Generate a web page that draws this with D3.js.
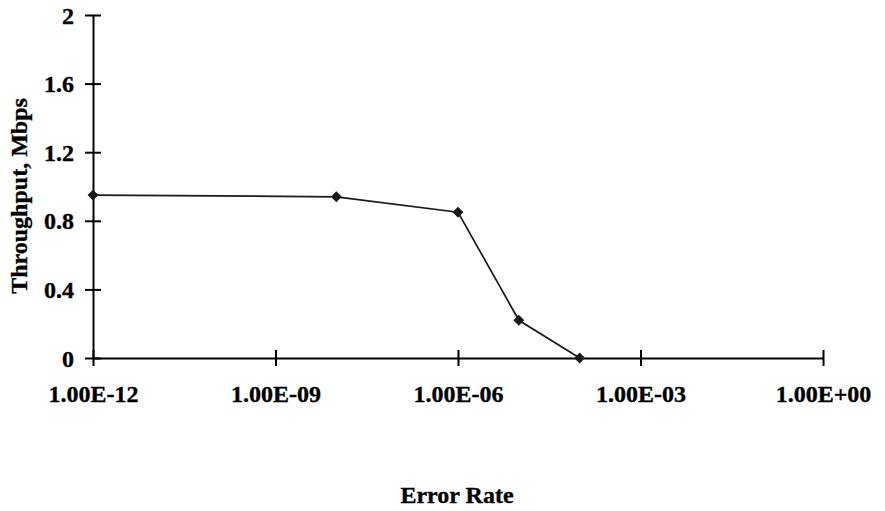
<!DOCTYPE html>
<html>
<head>
<meta charset="utf-8">
<script src="https://cdn.jsdelivr.net/npm/d3@7"></script>
<style>
  body { margin: 0; background: #fff; }
  svg text { font-family: "Liberation Serif", "Times New Roman", serif; font-weight: bold; fill: #000; stroke: #000; stroke-width: 0.35px; }
</style>
</head>
<body>
<div id="graphDiv"></div>
<script>
// error rate vs throughput
var errorRates = [1e-12, 1e-8, 1e-6, 1e-5, 1e-4];
var throughput = [0.95, 0.94, 0.85, 0.22, 0];
var xTicks = [1e-12, 1e-9, 1e-6, 1e-3, 1];
var xTickLabels = ["1.00E-12", "1.00E-09", "1.00E-06", "1.00E-03", "1.00E+00"];
var yTicks = [0, 0.4, 0.8, 1.2, 1.6, 2];
var yTickLabels = ["0", "0.4", "0.8", "1.2", "1.6", "2"];

var w = 885, h = 511;
var fontSize = 24;

var svg = d3.select("#graphDiv").append("svg")
    .attr("width", w)
    .attr("height", h);

var xScale = d3.scaleLog().domain([1e-12, 1]).range([93, 823]);
var yScale = d3.scaleLinear().domain([0, 2]).range([358, 15]);

var xAxis = d3.axisBottom(xScale)
    .tickValues(xTicks)
    .tickFormat(function (d, i) { return xTickLabels[i]; })
    .tickSizeInner(8)
    .tickSizeOuter(0)
    .tickPadding(11);

var yAxis = d3.axisLeft(yScale)
    .tickValues(yTicks)
    .tickFormat(function (d, i) { return yTickLabels[i]; })
    .tickSizeInner(8)
    .tickSizeOuter(0)
    .tickPadding(11);

var gx = svg.append("g")
    .attr("class", "x axis")
    .attr("transform", "translate(0," + yScale(0) + ")")
    .call(xAxis);

var gy = svg.append("g")
    .attr("class", "y axis")
    .attr("transform", "translate(" + xScale(1e-12) + ",0)")
    .call(yAxis);

// ticks cross the axis line
gx.selectAll(".tick line").attr("y1", -8).attr("y2", 8);
gy.selectAll(".tick line").attr("x1", 8).attr("x2", -8);

svg.selectAll(".axis path, .axis line")
    .attr("stroke", "#000")
    .attr("stroke-width", 2);
svg.selectAll(".axis").attr("font-family", null).attr("font-size", null);
svg.selectAll(".axis text")
    .style("font-size", fontSize + "px")
    .style("font-weight", "bold");

gy.selectAll(".tick text").attr("dy", "0.34em");
gx.selectAll(".tick text").attr("y", 27).attr("dy", "0.71em");

// axis titles
svg.append("text")
    .attr("text-anchor", "middle")
    .attr("x", 457)
    .attr("y", 503)
    .style("font-size", fontSize + "px")
    .style("font-weight", "bold")
    .text("Error Rate");

svg.append("text")
    .attr("text-anchor", "middle")
    .attr("transform", "translate(27," + 196 + ") rotate(-90)")
    .style("font-size", fontSize + "px")
    .style("font-weight", "bold")
    .text("Throughput, Mbps");

// data line
var data = errorRates.map(function (d, i) { return { x: d, y: throughput[i] }; });

var lineFunc = d3.line()
    .x(function (d) { return xScale(d.x); })
    .y(function (d) { return yScale(d.y); });

svg.append("path")
    .attr("d", lineFunc(data))
    .attr("fill", "none")
    .attr("stroke", "#1a1a1a")
    .attr("stroke-width", 1.7);

svg.selectAll("path.marker")
    .data(data)
    .enter().append("path")
    .attr("class", "marker")
    .attr("d", d3.symbol().type(d3.symbolDiamond2).size(75))
    .attr("transform", function (d) { return "translate(" + xScale(d.x) + "," + yScale(d.y) + ")"; })
    .attr("fill", "#1a1a1a");
</script>
</body>
</html>
